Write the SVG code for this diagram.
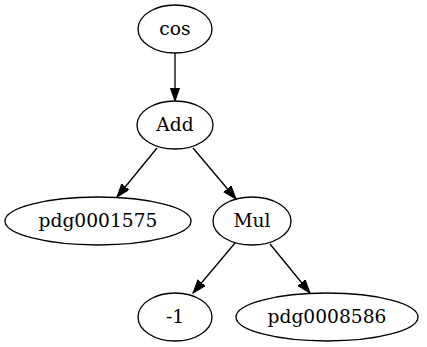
<svg xmlns="http://www.w3.org/2000/svg" width="427" height="347" viewBox="0 0 427 347">
<style>
.n ellipse{fill:none;stroke:#000;stroke-width:1.33}
.n text{font-family:"DejaVu Serif","Liberation Serif",serif;font-size:18.67px;text-anchor:middle;fill:#000}
.e line{stroke:#000;stroke-width:1.33;marker-end:url(#ah)}
</style>
<defs>
<marker id="ah" markerUnits="userSpaceOnUse" markerWidth="15" markerHeight="11" refX="13.3" refY="4.7" orient="auto">
<path d="M0,0 L13.3,4.7 L0,9.4 z" fill="#000" stroke="#000" stroke-width="1"/>
</marker>
</defs>
<rect width="427" height="347" fill="#fff"/>
<g id="edges" class="e">
<line x1="175" y1="53" x2="175" y2="101"/>
<line x1="157" y1="148" x2="117" y2="197"/>
<line x1="193" y1="148" x2="236" y2="199"/>
<line x1="235" y1="243" x2="193" y2="293"/>
<line x1="270" y1="244" x2="310" y2="293"/>
</g>
<g id="cos" class="n"><ellipse cx="175" cy="29" rx="37" ry="24"/><text x="175" y="35">cos</text></g>
<g id="Add" class="n"><ellipse cx="175" cy="125" rx="38" ry="24"/><text x="175" y="131">Add</text></g>
<g id="pdg0001575" class="n"><ellipse cx="98" cy="221" rx="93" ry="24"/><text x="98" y="227">pdg0001575</text></g>
<g id="Mul" class="n"><ellipse cx="252" cy="221" rx="39" ry="24"/><text x="252" y="227">Mul</text></g>
<g id="m1" class="n"><ellipse cx="175" cy="317" rx="37" ry="24"/><text x="175" y="323">-1</text></g>
<g id="pdg0008586" class="n"><ellipse cx="327" cy="317" rx="91" ry="24"/><text x="327" y="323">pdg0008586</text></g>
</svg>
